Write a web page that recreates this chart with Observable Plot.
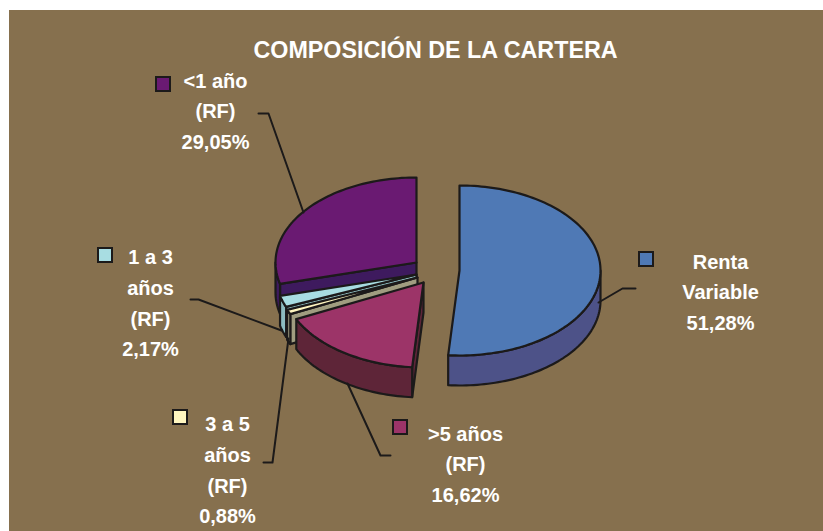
<!DOCTYPE html>
<html><head><meta charset="utf-8">
<script src="https://cdn.jsdelivr.net/npm/d3@7"></script>
<script src="https://cdn.jsdelivr.net/npm/@observablehq/plot@0.6"></script>
<style>html,body{margin:0;padding:0;background:#fff}svg{display:block}</style>
</head><body><div id="chart"></div>
<script>
// ---- data ----
const title = "COMPOSICIÓN DE LA CARTERA";
const categories = ["Renta Variable", ">5 años (RF)", "3 a 5 años (RF)", "1 a 3 años (RF)", "<1 año (RF)"];
const shares = [51.28, 16.62, 0.88, 2.17, 29.05];
const labelLines = [["Renta", "Variable"], [">5 años", "(RF)"], ["3 a 5", "años", "(RF)"], ["1 a 3", "años", "(RF)"], ["<1 año", "(RF)"]];
const topColors = ["#4f79b5", "#9c3468", "#fff6c0", "#a8dde2", "#6a1a72"];
const sideColors = ["#4d5288", "#5e2538", "#a09d80", "#8dbcc0", "#3e1a5e"];

// ---- layout ----
const W = 823, H = 531;
const BG = "#86704e", INK = "#1c1a1a";
const RX = 141, RY = 85, DEPTH = 30;
const apex = [[459, 270], [423, 282], [417, 277], [416, 274], [416, 262]];
const labelPos = [[720, 289], [465, 461], [227, 467], [150, 300], [215, 108]];
const swatchPos = [[646, 259], [400, 427], [180, 417], [105, 255], [163, 84]];
const leaders = [
  [[635, 288], [622, 288], [598, 302]],
  [[390, 455], [380, 455], [347, 383]],
  [[263, 462], [272, 462], [288, 338]],
  [[190, 299], [198, 299], [281, 330]],
  [[258, 113], [268, 113], [303, 212]]
];

// ---- geometry from values ----
const total = d3.sum(shares);
let acc = 0;
const slices = shares.map((v, i) => {
  const a0 = acc / total * 2 * Math.PI; acc += v;
  const a1 = acc / total * 2 * Math.PI;
  return {i, a0, a1, cx: apex[i][0], cy: apex[i][1]};
});
const rim = (s, t, dz = 0) => ({x: s.cx + RX * Math.sin(t), y: s.cy - RY * Math.cos(t) + dz});
const arcPts = (s, t0, t1, dz) => {
  const n = Math.max(2, Math.ceil((t1 - t0) / (Math.PI / 120)));
  return d3.range(n + 1).map(k => rim(s, t0 + (t1 - t0) * k / n, dz));
};
const depthKey = s => s.cy - RY * Math.cos((s.a0 + s.a1) / 2);
const faces = [];
for (const s of slices.slice().sort((p, q) => depthKey(p) - depthKey(q))) {
  const radial = t => [{x: s.cx, y: s.cy}, rim(s, t), rim(s, t, DEPTH), {x: s.cx, y: s.cy + DEPTH}];
  if (Math.sin(s.a0) < -1e-9) faces.push({pts: radial(s.a0), fill: sideColors[s.i]});
  if (Math.sin(s.a1) > 1e-9) faces.push({pts: radial(s.a1), fill: sideColors[s.i]});
  const v0 = Math.max(s.a0, Math.PI / 2), v1 = Math.min(s.a1, 3 * Math.PI / 2);
  if (v1 > v0) faces.push({pts: [...arcPts(s, v0, v1, 0), ...arcPts(s, v0, v1, DEPTH).reverse()], fill: sideColors[s.i]});
  faces.push({pts: [{x: s.cx, y: s.cy}, ...arcPts(s, s.a0, s.a1, 0)], fill: topColors[s.i]});
}

const fmt = v => v.toFixed(2).replace(".", ",") + "%";
const labels = categories.map((c, i) => ({
  x: labelPos[i][0], y: labelPos[i][1],
  text: [...labelLines[i], fmt(shares[i])].join("\n")
}));
const swatches = categories.map((c, i) => ({
  x1: swatchPos[i][0] - 7, x2: swatchPos[i][0] + 7,
  y1: swatchPos[i][1] - 7, y2: swatchPos[i][1] + 7, fill: topColors[i]
}));
const leaderPts = leaders.flatMap((l, k) => l.map(([x, y]) => ({x, y, k})));

const font = "'Liberation Sans', Arial, Helvetica, sans-serif";
const marks = [
  Plot.rect([{x1: 9, x2: W, y1: 10, y2: H}], {x1: "x1", x2: "x2", y1: "y1", y2: "y2", fill: BG}),
  ...faces.map(f => Plot.line(f.pts, {x: "x", y: "y", fill: f.fill, stroke: INK, strokeWidth: 2.2, strokeLinejoin: "round", curve: "linear-closed"})),
  Plot.line(leaderPts, {x: "x", y: "y", z: "k", stroke: INK, strokeWidth: 2}),
  Plot.rect(swatches, {x1: "x1", x2: "x2", y1: "y1", y2: "y2", fill: "fill", stroke: INK, strokeWidth: 2}),
  Plot.text(labels, {x: "x", y: "y", text: "text", fill: "white", fontSize: 20, fontWeight: "bold", lineHeight: 1.53, fontFamily: font}),
  Plot.text([{x: 435, y: 50, t: title}], {x: "x", y: "y", text: "t", fill: "white", fontSize: 23.3, fontWeight: "bold", fontFamily: font})
];

const chart = Plot.plot({
  width: W, height: H, margin: 0,
  x: {domain: [0, W], range: [0, W], axis: null},
  y: {domain: [0, H], range: [0, H], axis: null},
  color: {type: "identity"},
  style: {background: "#fff"},
  marks
});
document.getElementById("chart").append(chart);
</script>
</body></html>
